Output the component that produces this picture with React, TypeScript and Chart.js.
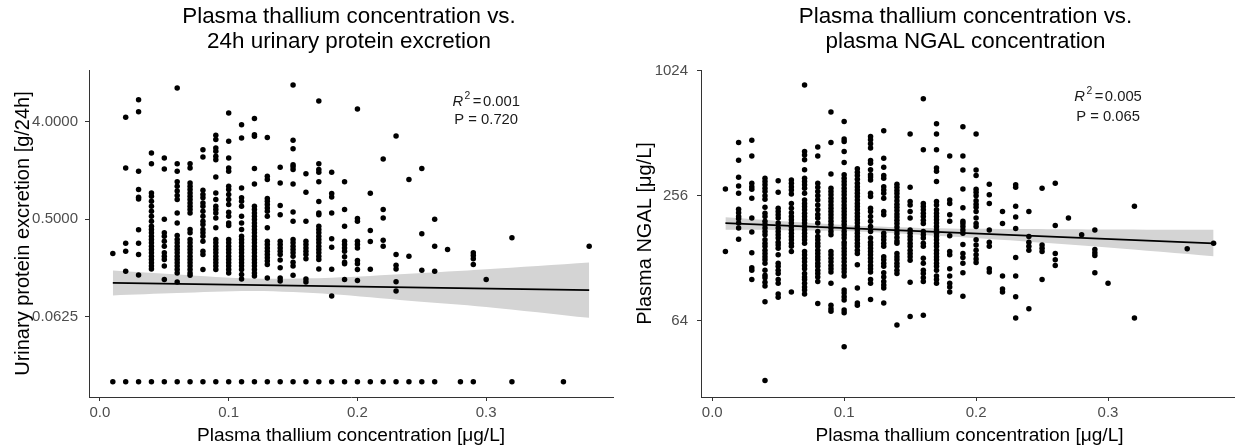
import React, { useEffect, useRef } from "react";
import { Chart, registerables } from "chart.js";

Chart.register(...registerables);

const FONT = "'Liberation Sans', Arial, Helvetica, sans-serif";

// ---------- shared x ticks ----------
const xTickValues = [0, 0.1, 0.2, 0.3];
const xMin = -0.0085;
const xMax = 0.3985;

// ---------- LEFT: urinary protein excretion ----------
const urineLevels = [
  0.01, 0.02, 0.03, 0.04, 0.05, 0.06, 0.07, 0.08, 0.09, 0.1, 0.11, 0.12, 0.13,
  0.14, 0.15, 0.16, 0.17, 0.18, 0.19, 0.2, 0.21, 0.22, 0.23, 0.24, 0.25, 0.26,
  0.27, 0.29, 0.3, 0.32, 0.38,
];
const urineValues: number[][] = [
  [0.24],
  [4.4, 1.49, 0.3, 0.253, 0.165],
  [6.39, 4.95, 1.39, 0.94, 0.8, 0.77, 0.4, 0.3, 0.235, 0.152],
  [2.05, 1.63, 0.876, 0.816, 0.734, 0.659, 0.593, 0.533, 0.479, 0.431, 0.401, 0.374, 0.348, 0.324, 0.302, 0.281, 0.262, 0.244, 0.227, 0.212, 0.197, 0.184, 0.173],
  [1.84, 1.46, 0.5, 0.374, 0.348, 0.313, 0.281, 0.244, 0.227, 0.212, 0.184, 0.138],
  [8.2, 1.63, 1.39, 1.11, 1.01, 0.91, 0.83, 0.76, 0.572, 0.462, 0.353, 0.324, 0.302, 0.281, 0.262, 0.244, 0.227, 0.212, 0.197, 0.184, 0.171, 0.159, 0.131],
  [1.63, 1.49, 1.083, 1.009, 0.94, 0.876, 0.816, 0.76, 0.708, 0.659, 0.614, 0.572, 0.401, 0.374, 0.324, 0.302, 0.281, 0.262, 0.244, 0.227, 0.212, 0.197, 0.184, 0.171, 0.159, 0.151],
  [2.2, 1.88, 0.927, 0.846, 0.788, 0.708, 0.659, 0.593, 0.533, 0.479, 0.446, 0.401, 0.374, 0.348, 0.313, 0.253, 0.235, 0.171],
  [3.0, 2.73, 2.28, 2.13, 1.91, 1.78, 1.23, 0.876, 0.76, 0.659, 0.614, 0.572, 0.514, 0.416, 0.324, 0.302, 0.281, 0.262, 0.244, 0.227, 0.212, 0.197, 0.184, 0.171],
  [4.81, 2.63, 1.84, 1.49, 1.39, 1.009, 0.94, 0.846, 0.76, 0.683, 0.58, 0.533, 0.462, 0.437, 0.324, 0.302, 0.281, 0.262, 0.244, 0.227, 0.212, 0.197, 0.184, 0.171, 0.159],
  [3.75, 2.83, 0.974, 0.788, 0.734, 0.659, 0.533, 0.462, 0.401, 0.348, 0.324, 0.302, 0.281, 0.262, 0.244, 0.227, 0.212, 0.197, 0.184, 0.171, 0.154, 0.14],
  [4.27, 3.03, 2.93, 1.47, 1.06, 0.659, 0.614, 0.572, 0.533, 0.496, 0.462, 0.431, 0.401, 0.374, 0.348, 0.324, 0.302, 0.281, 0.262, 0.244, 0.227, 0.212, 0.197, 0.184, 0.171, 0.159, 0.149],
  [2.86, 1.25, 1.163, 0.776, 0.734, 0.683, 0.636, 0.593, 0.533, 0.416, 0.313, 0.291, 0.271, 0.253, 0.235, 0.22, 0.205, 0.19, 0.143],
  [1.51, 1.083, 0.668, 0.549, 0.313, 0.291, 0.271, 0.253, 0.235, 0.209, 0.178, 0.143, 0.134],
  [8.74, 2.69, 2.25, 1.6, 1.53, 1.44, 1.06, 0.584, 0.479, 0.324, 0.302, 0.281, 0.262, 0.244, 0.227, 0.2, 0.184, 0.151],
  [1.32, 0.888, 0.479, 0.313, 0.291, 0.271, 0.253, 0.235, 0.215, 0.14, 0.131],
  [6.22, 1.63, 1.44, 1.36, 1.11, 0.728, 0.572, 0.549, 0.431, 0.401, 0.374, 0.348, 0.324, 0.302, 0.281, 0.262, 0.244, 0.227, 0.212, 0.173],
  [1.36, 0.864, 0.804, 0.572, 0.329, 0.275, 0.172, 0.097],
  [1.11, 0.614, 0.431, 0.313, 0.291, 0.271, 0.253, 0.224, 0.2, 0.193, 0.138],
  [5.25, 0.507, 0.479, 0.313, 0.291, 0.271, 0.207, 0.193, 0.171, 0.135],
  [0.87, 0.393, 0.31, 0.172],
  [1.8, 0.614, 0.514, 0.319, 0.281],
  [2.95, 0.235, 0.187, 0.173, 0.132, 0.108],
  [1.163, 0.227],
  [1.47, 0.366, 0.168],
  [0.5, 0.281, 0.165],
  [0.262],
  [0.244, 0.23, 0.215, 0.19],
  [0.138],
  [0.336],
  [0.281],
];
// rows at the detection floor (bottom line of dots)
const urineFloorLevels = [
  0.01, 0.02, 0.03, 0.04, 0.05, 0.06, 0.07, 0.08, 0.09, 0.1, 0.11, 0.12, 0.13,
  0.14, 0.15, 0.16, 0.17, 0.18, 0.19, 0.2, 0.21, 0.22, 0.23, 0.24, 0.25, 0.26,
  0.28, 0.29, 0.32, 0.36,
];
const urineFloorValue = 0.0156;
const urineFitX = [0.01, 0.38];
const urineFitY = [0.1288, 0.1103];
const urineBandX = [0.01, 0.06, 0.12, 0.18, 0.24, 0.3, 0.38];
const urineBandHigh = [0.1675, 0.154, 0.141, 0.1436, 0.156, 0.172, 0.199];
const urineBandLow = [0.0984, 0.1035, 0.108, 0.101, 0.088, 0.077, 0.061];
const urineTicks = [0.0625, 0.5, 4];

// ---------- RIGHT: plasma NGAL ----------
const ngalLevels = [
  0.01, 0.02, 0.03, 0.04, 0.05, 0.06, 0.07, 0.08, 0.09, 0.1, 0.11, 0.12, 0.13,
  0.14, 0.15, 0.16, 0.17, 0.18, 0.19, 0.2, 0.21, 0.22, 0.23, 0.24, 0.25, 0.26,
  0.27, 0.28, 0.29, 0.3, 0.32, 0.36, 0.38,
];
const ngalValues: number[][] = [
  [276, 138],
  [462, 379, 314, 285, 263, 220, 212, 203, 198, 189, 179, 158],
  [474, 398, 294, 283, 275, 249, 200, 171, 136, 115, 112, 101],
  [311, 300, 289, 278, 268, 256, 246, 225, 211, 203, 193, 186, 179, 172, 166, 157, 151, 146, 140, 135, 130, 126, 121, 112, 106, 103, 98, 94, 79, 33],
  [302, 266, 223, 215, 207, 200, 189, 179, 172, 166, 160, 153, 148, 143, 133, 121, 117, 112, 108, 101, 97, 86, 83],
  [305, 294, 283, 273, 261, 235, 223, 212, 203, 196, 189, 182, 175, 169, 163, 157, 151, 146, 138, 88],
  [873, 418, 402, 381, 341, 311, 300, 289, 278, 263, 244, 235, 227, 219, 211, 203, 196, 189, 182, 175, 169, 163, 157, 151, 138, 133, 128, 123, 118, 114, 108, 104, 101, 97, 93, 90, 86],
  [439, 398, 294, 281, 268, 256, 244, 231, 219, 208, 200, 189, 172, 163, 157, 151, 146, 140, 135, 130, 126, 121, 117, 112, 108, 104, 99, 77.5],
  [647, 462, 326, 278, 268, 259, 249, 240, 231, 223, 215, 207, 200, 193, 186, 179, 172, 166, 138, 133, 128, 123, 118, 114, 110, 97, 76, 73, 71],
  [583, 480, 467, 418, 370, 323, 311, 300, 289, 278, 268, 259, 249, 240, 231, 223, 215, 207, 200, 193, 186, 179, 172, 166, 160, 153, 148, 143, 138, 133, 128, 123, 118, 114, 110, 105, 90, 87, 83.5, 80.5, 72, 70, 48],
  [345, 332, 320, 307, 294, 283, 273, 263, 254, 244, 235, 227, 219, 211, 203, 196, 189, 182, 175, 169, 163, 157, 151, 146, 140, 135, 119, 92, 78, 76],
  [494, 476, 456, 434, 378, 367, 341, 323, 315, 305, 263, 254, 223, 215, 203, 193, 182, 172, 160, 153, 148, 143, 138, 133, 128, 123, 118, 114, 110, 101, 97, 81],
  [526, 388, 351, 320, 311, 283, 273, 263, 249, 215, 207, 169, 163, 157, 151, 146, 130, 126, 121, 117, 109, 104, 99, 95, 92, 78],
  [291, 281, 271, 262, 252, 242, 233, 225, 217, 209, 202, 195, 188, 181, 174, 168, 161, 155, 151, 135, 130, 126, 121, 117, 112, 108, 61],
  [507, 281, 240, 231, 215, 200, 175, 169, 163, 157, 151, 146, 140, 135, 130, 125, 98, 67],
  [750, 426, 235, 227, 219, 211, 203, 195, 188, 172, 166, 160, 151, 146, 128, 121, 112, 108, 103, 99, 68],
  [568, 507, 426, 348, 336, 300, 240, 231, 219, 211, 203, 196, 189, 182, 175, 169, 163, 157, 151, 146, 140, 135, 130, 126, 121, 117, 112, 105, 101, 97],
  [398, 244, 235, 207, 193, 164, 138, 133, 114, 105, 97, 93, 88],
  [550, 398, 340, 276, 224, 193, 188, 182, 175, 169, 149, 135, 129, 121, 109, 84],
  [507, 340, 320, 275, 266, 256, 242, 233, 225, 215, 200, 188, 182, 157, 148, 140, 133, 127, 122],
  [291, 259, 235, 175, 153, 146, 114, 110],
  [215, 188, 105, 91, 88],
  [289, 281, 228, 202, 178, 129, 105, 83.5, 66],
  [215, 163, 153, 146, 140, 73],
  [278, 148, 143, 138, 101],
  [294, 184, 135, 126, 118],
  [200],
  [166],
  [175, 141, 136, 132, 109],
  [97],
  [228, 66],
  [142],
  [151],
];
const ngalFitX = [0.01, 0.38];
const ngalFitY = [189, 151];
const ngalBandX = [0.01, 0.06, 0.12, 0.18, 0.24, 0.3, 0.38];
const ngalBandHigh = [201.6, 192, 182.5, 178, 177, 176, 175.3];
const ngalBandLow = [175.7, 174.7, 171.4, 162.7, 153.7, 144.3, 131];
const ngalTicks = [64, 256, 1024];

type Pt = { x: number; y: number };

function toPoints(levels: number[], values: number[][]): Pt[] {
  const pts: Pt[] = [];
  levels.forEach((lv, i) => values[i].forEach((v) => pts.push({ x: lv, y: v })));
  return pts;
}
function zipPts(xs: number[], ys: number[]): Pt[] {
  return xs.map((x, i) => ({ x, y: ys[i] }));
}

const overlayPlugin = {
  id: "overlay",
  afterDraw(chart: any, _args: any, o: any) {
    const { ctx, chartArea, scales } = chart;
    ctx.save();
    // title
    ctx.fillStyle = "#000";
    ctx.textAlign = "center";
    ctx.textBaseline = "middle";
    ctx.font = `22.4px ${FONT}`;
    const cx = (chartArea.left + chartArea.right) / 2 + o.titleShift;
    o.title.forEach((t: string, i: number) => ctx.fillText(t, cx, o.titleY[i]));
    // annotation
    const fs = 14.8;
    const ax = scales.x.getPixelForValue(o.annX);
    const y1 = scales.y.getPixelForValue(o.annY[0]);
    const y2 = scales.y.getPixelForValue(o.annY[1]);
    ctx.fillStyle = "#1a1a1a";
    const parts = [
      { t: "R", f: `italic ${fs}px ${FONT}`, dy: 0, gap: 1.5 },
      { t: "2", f: `${fs * 0.7}px ${FONT}`, dy: -fs * 0.36, gap: 2.5 },
      { t: "=", f: `${fs}px ${FONT}`, dy: 0, gap: 1.5 },
      { t: o.r2, f: `${fs}px ${FONT}`, dy: 0, gap: 0 },
    ];
    let total = 0;
    parts.forEach((p) => {
      ctx.font = p.f;
      total += ctx.measureText(p.t).width + p.gap;
    });
    let x = ax - total / 2;
    ctx.textAlign = "left";
    parts.forEach((p) => {
      ctx.font = p.f;
      ctx.fillText(p.t, x, y1 + p.dy);
      x += ctx.measureText(p.t).width + p.gap;
    });
    ctx.textAlign = "center";
    ctx.font = `${fs}px ${FONT}`;
    ctx.fillText(o.p, ax, y2);
    ctx.restore();
  },
};

type Cfg = {
  points: Pt[];
  fit: Pt[];
  bandHi: Pt[];
  bandLo: Pt[];
  yMin: number;
  yMax: number;
  yTicks: number[];
  yFmt: (v: number) => string;
  yTitle: string;
  yWidth: number;
  yTitlePad: number;
  yTickPad: number;
  padRight: number;
  overlay: any;
};

function buildConfig(c: Cfg): any {
  const tickFont = { family: FONT, size: 15 };
  return {
    type: "scatter",
    data: {
      datasets: [
        {
          type: "line",
          data: c.fit,
          borderColor: "#000",
          borderWidth: 1.8,
          pointRadius: 0,
          fill: false,
        },
        {
          type: "scatter",
          data: c.points,
          pointRadius: 2.75,
          pointBackgroundColor: "#000",
          backgroundColor: "#000",
          borderWidth: 0,
          pointBorderWidth: 0,
        },
        {
          type: "line",
          data: c.bandHi,
          borderWidth: 0,
          borderColor: "rgba(0,0,0,0)",
          pointRadius: 0,
          tension: 0.3,
          fill: "+1",
          backgroundColor: "#d4d4d4",
        },
        {
          type: "line",
          data: c.bandLo,
          borderWidth: 0,
          borderColor: "rgba(0,0,0,0)",
          pointRadius: 0,
          tension: 0.3,
          fill: false,
        },
      ],
    },
    options: {
      animation: false,
      responsive: false,
      devicePixelRatio: 1,
      events: [],
      layout: { padding: { top: 70, left: 0, right: c.padRight, bottom: 0 } },
      plugins: {
        legend: { display: false },
        tooltip: { enabled: false },
        overlay: c.overlay,
      },
      scales: {
        x: {
          type: "linear",
          min: xMin,
          max: xMax,
          afterBuildTicks: (s: any) => {
            s.ticks = xTickValues.map((v) => ({ value: v }));
          },
          afterFit: (s: any) => {
            s.height = 50;
          },
          ticks: {
            callback: (v: any) => Number(v).toFixed(1),
            color: "#4d4d4d",
            font: tickFont,
            padding: 3,
            maxRotation: 0,
            autoSkip: false,
          },
          grid: {
            display: true,
            drawOnChartArea: false,
            drawTicks: true,
            tickLength: 4,
            color: "#333",
            tickColor: "#333",
          },
          border: { display: true, color: "#333", width: 1 },
          title: {
            display: true,
            text: "Plasma thallium concentration [μg/L]",
            color: "#000",
            font: { family: FONT, size: 19.1 },
            padding: { top: 0, bottom: 0 },
          },
        },
        y: {
          type: "logarithmic",
          min: c.yMin,
          max: c.yMax,
          afterBuildTicks: (s: any) => {
            s.ticks = c.yTicks.map((v) => ({ value: v, major: true }));
          },
          afterFit: (s: any) => {
            s.width = c.yWidth;
          },
          ticks: {
            callback: (v: any) => c.yFmt(Number(v)),
            color: "#4d4d4d",
            font: tickFont,
            padding: c.yTickPad,
            autoSkip: false,
          },
          grid: {
            display: true,
            drawOnChartArea: false,
            drawTicks: true,
            tickLength: 4,
            color: "#333",
            tickColor: "#333",
          },
          border: { display: true, color: "#333", width: 1 },
          title: {
            display: true,
            text: c.yTitle,
            color: "#000",
            font: { family: FONT, size: 20 },
            padding: { top: c.yTitlePad, bottom: 0 },
          },
        },
      },
    },
    plugins: [overlayPlugin],
  };
}

function ChartCanvas({ cfg, width, left }: { cfg: Cfg; width: number; left: number }) {
  const ref = useRef<HTMLCanvasElement | null>(null);
  useEffect(() => {
    if (!ref.current) return;
    const chart = new Chart(ref.current, buildConfig(cfg));
    return () => chart.destroy();
  }, []);
  return (
    <canvas
      ref={ref}
      width={width}
      height={447}
      style={{ position: "absolute", left, top: 0, width, height: 447, display: "block" }}
    />
  );
}

const leftCfg: Cfg = {
  points: [
    ...toPoints(urineLevels, urineValues),
    ...urineFloorLevels.map((x) => ({ x, y: urineFloorValue })),
  ],
  fit: zipPts(urineFitX, urineFitY),
  bandHi: zipPts(urineBandX, urineBandHigh),
  bandLo: zipPts(urineBandX, urineBandLow),
  yMin: 0.01128,
  yMax: 12.04,
  yTicks: urineTicks,
  yFmt: (v) => v.toFixed(4),
  yTitle: "Urinary protein excretion [g/24h]",
  yWidth: 89,
  yTitlePad: 11.5,
  yTickPad: 7,
  padRight: 3,
  overlay: {
    title: ["Plasma thallium concentration vs.", "24h urinary protein excretion"],
    titleY: [17, 42],
    titleShift: -2,
    annX: 0.3,
    annY: [6.12, 4.17],
    r2: "0.001",
    p: "P = 0.720",
  },
};

const rightCfg: Cfg = {
  points: toPoints(ngalLevels, ngalValues),
  fit: zipPts(ngalFitX, ngalFitY),
  bandHi: zipPts(ngalBandX, ngalBandHigh),
  bandLo: zipPts(ngalBandX, ngalBandLow),
  yMin: 27.47,
  yMax: 1031.8,
  yTicks: ngalTicks,
  yFmt: (v) => String(Math.round(v)),
  yTitle: "Plasma NGAL [μg/L]",
  yWidth: 84,
  yTitlePad: 16,
  yTickPad: 9,
  padRight: 4,
  overlay: {
    title: ["Plasma thallium concentration vs.", "plasma NGAL concentration"],
    titleY: [17, 42],
    titleShift: -4,
    annX: 0.3,
    annY: [767, 614],
    r2: "0.005",
    p: "P = 0.065",
  },
};

export default function App() {
  return (
    <div
      style={{
        position: "fixed",
        left: 0,
        top: 0,
        width: 1235,
        height: 447,
        overflow: "hidden",
        background: "#fff",
      }}
    >
      <ChartCanvas cfg={leftCfg} width={617} left={0} />
      <ChartCanvas cfg={rightCfg} width={625} left={617} />
    </div>
  );
}
